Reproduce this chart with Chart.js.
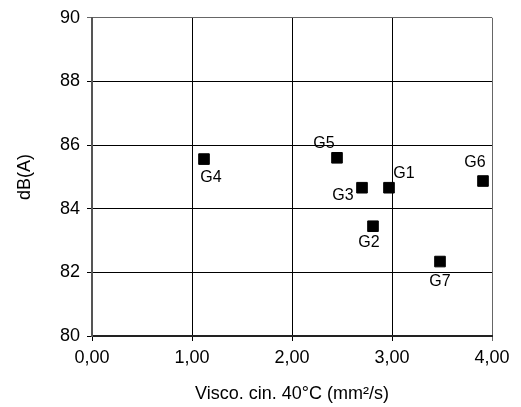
<!DOCTYPE html>
<html lang="pt">
<head>
  <meta charset="UTF-8" />
  <script src="https://cdn.jsdelivr.net/npm/chart.js"></script>
  <title>dB(A) x Visco. cin.</title>
  <style>
    body { margin: 0; background: #fff; }
    canvas { display: block; }
  </style>
</head>
<body>
  <canvas id="grafico" width="521" height="407"></canvas>

<script>
  // dados
  const nomes = ["G1", "G2", "G3", "G4", "G5", "G6", "G7"];
  const visco = [2.97, 2.81, 2.70, 1.12, 2.45, 3.91, 3.48];
  const ruido = [84.66, 83.45, 84.66, 85.56, 85.6, 84.87, 82.34];
  const ticksX = [0, 1, 2, 3, 4];
  const ticksY = [80, 82, 84, 86, 88, 90];

  // deslocamento dos rótulos em px (só posição do texto)
  const desloc = {
    G1: [15, -14], G2: [-4, 16], G3: [-19, 8], G4: [7, 19],
    G5: [-13, -14], G6: [-8, -18], G7: [0, 20]
  };

  const fonte = "'Liberation Sans', Arial, Helvetica, sans-serif";

  const pontos = visco.map((v, i) => ({ x: v, y: ruido[i] }));

  const rotulos = {
    id: "rotulos",
    afterDatasetsDraw(chart) {
      const ctx = chart.ctx;
      const meta = chart.getDatasetMeta(0);
      ctx.save();
      ctx.font = "16px " + fonte;
      ctx.fillStyle = "#000";
      ctx.textAlign = "center";
      ctx.textBaseline = "middle";
      meta.data.forEach(function (p, i) {
        const d = desloc[nomes[i]];
        ctx.fillText(nomes[i], p.x + d[0], p.y + d[1]);
      });
      ctx.restore();
    }
  };

  const config = {
    type: "scatter",
    data: {
      datasets: [{
        data: pontos,
        pointStyle: "rect",
        pointRadius: 7.5,
        pointBorderWidth: 1,
        backgroundColor: "#000",
        borderColor: "#000"
      }]
    },
    options: {
      responsive: false,
      animation: false,
      layout: { padding: { top: 14, right: 29, left: 0, bottom: 0 } },
      plugins: { legend: { display: false }, tooltip: { enabled: false } },
      scales: {
        x: {
          type: "linear",
          min: 0,
          max: 4,
          afterFit(s) { s.height = 71; },
          afterBuildTicks(s) { s.ticks = ticksX.map(v => ({ value: v })); },
          grid: {
            color: (c) => c.tick && c.tick.value === 4 ? "#666" : "#000",
            lineWidth: 1,
            tickLength: 5
          },
          border: { color: "#222", width: 2 },
          ticks: {
            color: "#000",
            padding: 6,
            font: { family: fonte, size: 18 },
            callback: (v) => v.toFixed(2).replace(".", ",")
          },
          title: {
            display: true,
            text: "Visco. cin. 40°C (mm²/s)",
            color: "#000",
            font: { family: fonte, size: 18 },
            padding: { top: 0, bottom: 2 }
          }
        },
        y: {
          type: "linear",
          min: 80,
          max: 90,
          afterFit(s) { s.width = 92; },
          afterBuildTicks(s) { s.ticks = ticksY.map(v => ({ value: v })); },
          grid: {
            color: (c) => c.tick && c.tick.value === 90 ? "#666" : "#000",
            lineWidth: 1,
            tickLength: 5
          },
          border: { color: "#555", width: 2 },
          ticks: {
            color: "#000",
            padding: 7,
            font: { family: fonte, size: 18 }
          },
          title: {
            display: true,
            text: "dB(A)",
            color: "#000",
            font: { family: fonte, size: 18 },
            padding: { top: 14, bottom: 0 }
          }
        }
      }
    },
    plugins: [rotulos]
  };

  new Chart(document.getElementById("grafico").getContext("2d"), config);
</script>
</body>
</html>
